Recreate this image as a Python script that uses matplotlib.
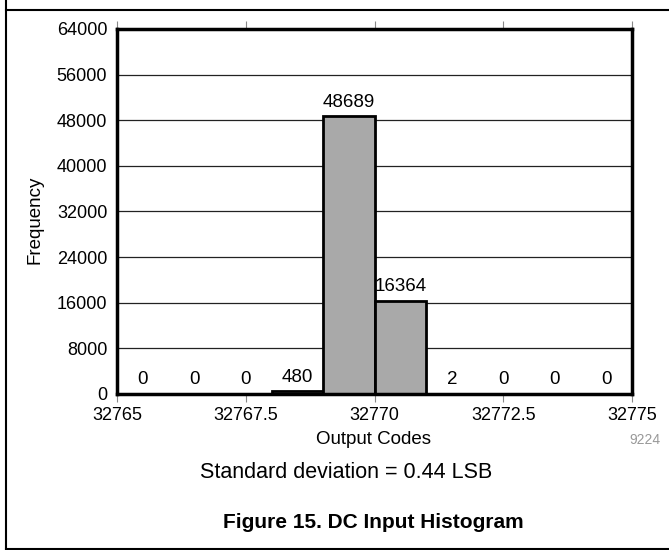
import matplotlib
matplotlib.use("Agg")
import matplotlib.pyplot as plt
from matplotlib.lines import Line2D

plt.rcParams['font.family'] = ['Liberation Sans', 'DejaVu Sans']

bin_left = [32765, 32766, 32767, 32768, 32769, 32770, 32771, 32772, 32773, 32774]
counts = [0, 0, 0, 480, 48689, 16364, 2, 0, 0, 0]
x_ticks = [32765, 32767.5, 32770, 32772.5, 32775]
x_tick_labels = ["32765", "32767.5", "32770", "32772.5", "32775"]
y_ticks = [0, 8000, 16000, 24000, 32000, 40000, 48000, 56000, 64000]

W, H = 669, 550
fig = plt.figure(figsize=(W / 100, H / 100), dpi=100)
ax = fig.add_axes([117 / W, 1 - 394 / H, (632 - 117) / W, (394 - 29) / H])

ax.bar(bin_left, counts, width=1.0, align='edge', color='#a9a9a9',
       edgecolor='black', linewidth=2, zorder=3)
for xl, c in zip(bin_left, counts):
    ax.annotate(str(c), (xl + 0.5, c), xytext=(0, 4), textcoords='offset points',
                ha='center', va='bottom', fontsize=13.5, zorder=4)

ax.set_xlim(32765, 32775)
ax.set_ylim(0, 64000)
ax.set_yticks(y_ticks)
ax.set_yticklabels([str(v) for v in y_ticks])
ax.set_xticks(x_ticks)
ax.set_xticklabels(x_tick_labels)
ax.grid(axis='y', color='#222222', linewidth=0.9, zorder=1)
ax.tick_params(axis='x', which='both', direction='out', length=6, width=0.8,
               color='#888888', top=True, labeltop=False, labelsize=13, pad=3)
ax.tick_params(axis='y', length=0, labelsize=13, pad=7)
for s in ax.spines.values():
    s.set_linewidth(2.5)
    s.set_zorder(5)

fig.text(35 / W, 1 - 220 / H, "Frequency", ha='center', va='center', fontsize=13.5, rotation=90)
fig.text(374 / W, 1 - 440 / H, "Output Codes", ha='center', va='center', fontsize=13.5)
fig.text(645 / W, 1 - 440 / H, "9224", ha='center', va='center', fontsize=10, color='#999999')
fig.text(346 / W, 1 - 473 / H, "Standard deviation = 0.44 LSB", ha='center', va='center', fontsize=15.5)
fig.text(373 / W, 1 - 522 / H, "Figure 15. DC Input Histogram", ha='center', va='center',
         fontsize=15, fontweight='bold')

# outer frame
fig.add_artist(Line2D([6 / W, 6 / W], [0, 1], transform=fig.transFigure, color='black', linewidth=1.5))
fig.add_artist(Line2D([6 / W, 1], [1 - 10 / H, 1 - 10 / H], transform=fig.transFigure, color='black', linewidth=1.5))
fig.add_artist(Line2D([6 / W, 1], [1 - 548.5 / H, 1 - 548.5 / H], transform=fig.transFigure, color='black', linewidth=1.5))

fig.savefig("out.png", dpi=100)
